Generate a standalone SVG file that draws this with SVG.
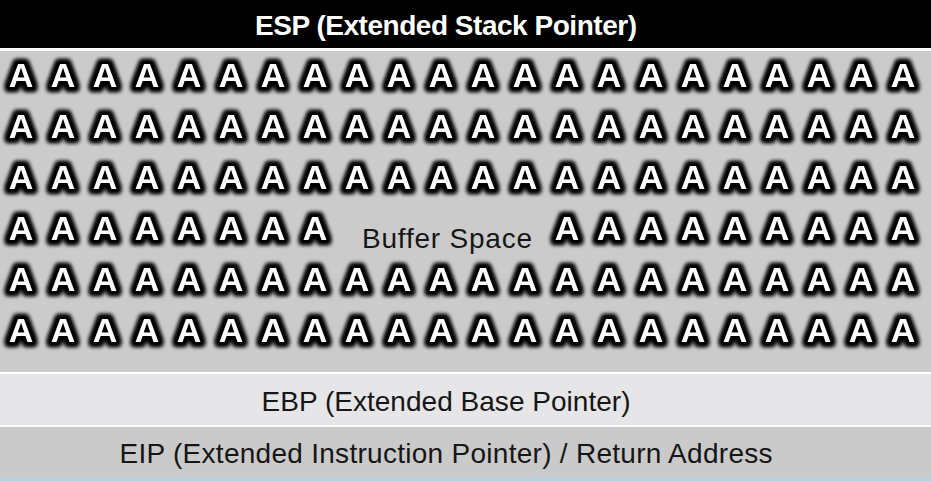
<svg xmlns="http://www.w3.org/2000/svg" width="931" height="481" viewBox="0 0 931 481">
  <style>
    .label { font-family: "Liberation Sans", "DejaVu Sans", sans-serif; font-size: 28px; fill: #161616; text-anchor: middle; }
    .head { font-family: "Liberation Sans", "DejaVu Sans", sans-serif; font-size: 28px; font-weight: bold; fill: #ffffff; text-anchor: middle; }
    .a { font-family: "Liberation Sans", "DejaVu Sans", sans-serif; font-size: 34px; font-weight: bold; fill: #ffffff; stroke: #000000; stroke-width: 4.5; paint-order: stroke; stroke-linejoin: round; text-anchor: middle; }
  </style>
  <defs>
    <filter id="glow" x="-5%" y="-20%" width="110%" height="140%">
      <feMorphology in="SourceAlpha" operator="dilate" radius="2" result="fat"/>
      <feGaussianBlur in="fat" stdDeviation="2" result="soft"/>
      <feFlood flood-color="#000000"/>
      <feComposite operator="in" in2="soft" result="shadow"/>
      <feMerge>
        <feMergeNode in="shadow"/>
        <feMergeNode in="shadow"/>
        <feMergeNode in="SourceGraphic"/>
      </feMerge>
    </filter>
    <g id="row">
      <text class="a" x="21">A</text><text class="a" x="63">A</text><text class="a" x="105">A</text><text class="a" x="147">A</text>
      <text class="a" x="189">A</text><text class="a" x="231">A</text><text class="a" x="273">A</text><text class="a" x="315">A</text>
      <text class="a" x="357">A</text><text class="a" x="399">A</text><text class="a" x="441">A</text><text class="a" x="483">A</text>
      <text class="a" x="525">A</text><text class="a" x="567">A</text><text class="a" x="609">A</text><text class="a" x="651">A</text>
      <text class="a" x="693">A</text><text class="a" x="735">A</text><text class="a" x="777">A</text><text class="a" x="819">A</text>
      <text class="a" x="861">A</text><text class="a" x="903">A</text>
    </g>
  </defs>

  <!-- base -->
  <rect x="0" y="0" width="931" height="481" fill="#ffffff"/>

  <!-- ESP header -->
  <g id="esp">
    <rect x="0" y="0" width="931" height="48" fill="#000000"/>
    <text class="head" x="446" y="35" textLength="382">ESP (Extended Stack Pointer)</text>
  </g>

  <!-- buffer space -->
  <g id="buffer">
    <rect x="0" y="51" width="931" height="321" fill="#cbcbcc"/>
    <g filter="url(#glow)">
      <use href="#row" y="87"/>
      <use href="#row" y="138"/>
      <use href="#row" y="189"/>
      <g transform="translate(0 240)">
        <text class="a" x="21">A</text><text class="a" x="63">A</text><text class="a" x="105">A</text><text class="a" x="147">A</text>
        <text class="a" x="189">A</text><text class="a" x="231">A</text><text class="a" x="273">A</text><text class="a" x="315">A</text>
        <text class="a" x="567">A</text><text class="a" x="609">A</text><text class="a" x="651">A</text><text class="a" x="693">A</text>
        <text class="a" x="735">A</text><text class="a" x="777">A</text><text class="a" x="819">A</text><text class="a" x="861">A</text>
        <text class="a" x="903">A</text>
      </g>
      <use href="#row" y="291"/>
      <use href="#row" y="342"/>
    </g>
    <text class="label" x="447" y="248" textLength="170">Buffer Space</text>
  </g>

  <!-- EBP -->
  <g id="ebp">
    <rect x="0" y="374" width="931" height="51" fill="#e6e6e8"/>
    <text class="label" x="446" y="411" textLength="369">EBP (Extended Base Pointer)</text>
  </g>

  <!-- EIP -->
  <g id="eip">
    <rect x="0" y="427" width="931" height="51" fill="#cacaca"/>
    <text class="label" x="446" y="463" textLength="653">EIP (Extended Instruction Pointer) / Return Address</text>
  </g>

  <rect x="0" y="478" width="931" height="3" fill="#b9cfe3"/>
</svg>
